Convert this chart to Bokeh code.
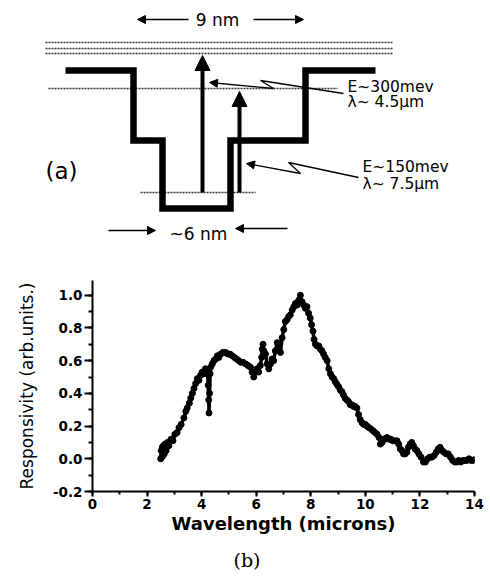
from bokeh.plotting import figure
from bokeh.layouts import column
from bokeh.models import (Range1d, Arrow, NormalHead, SingleIntervalTicker,
                          PrintfTickFormatter, Title)
from bokeh.core.properties import value
from bokeh.embed import file_html
from bokeh.resources import INLINE

# ---------------- data: panel (b) responsivity spectrum ----------------
wavelength = [2.50, 2.52, 2.54, 2.56, 2.58, 2.60, 2.63, 2.66, 2.70, 2.75, 2.80, 2.88, 2.95, 3.02,
              3.10, 3.17, 3.25, 3.35, 3.42, 3.47, 3.55, 3.60, 3.66, 3.72, 3.78, 3.84, 3.90, 3.96,
              4.02, 4.08, 4.14, 4.21, 4.24, 4.26, 4.27, 4.29, 4.31, 4.33, 4.39, 4.45, 4.52, 4.58,
              4.63, 4.70, 4.78, 4.88, 4.96, 5.04, 5.12, 5.20, 5.28, 5.36, 5.44, 5.52, 5.61, 5.70,
              5.79, 5.85, 5.91, 5.97, 6.03, 6.09, 6.15, 6.20, 6.22, 6.25, 6.28, 6.34, 6.40, 6.46,
              6.52, 6.58, 6.64, 6.70, 6.77, 6.83, 6.89, 6.95, 7.01, 7.07, 7.13, 7.19, 7.25, 7.32,
              7.38, 7.44, 7.50, 7.56, 7.62, 7.68, 7.74, 7.80, 7.86, 7.92, 7.98, 8.03, 8.08, 8.12,
              8.17, 8.23, 8.29, 8.35, 8.41, 8.47, 8.53, 8.60, 8.66, 8.72, 8.78, 8.84, 8.90, 8.96,
              9.02, 9.08, 9.14, 9.20, 9.26, 9.32, 9.38, 9.45, 9.51, 9.57, 9.63, 9.69, 9.75, 9.81,
              9.88, 9.94, 10.00, 10.06, 10.14, 10.22, 10.29, 10.36, 10.43, 10.50, 10.55, 10.61,
              10.67, 10.73, 10.79, 10.86, 10.93, 11.00, 11.08, 11.16, 11.22, 11.28, 11.34, 11.40,
              11.46, 11.52, 11.58, 11.64, 11.70, 11.76, 11.82, 11.89, 11.96, 12.04, 12.13, 12.20,
              12.28, 12.36, 12.44, 12.52, 12.60, 12.67, 12.74, 12.81, 12.88, 12.96, 13.04, 13.12,
              13.20, 13.28, 13.35, 13.42, 13.50, 13.58, 13.65, 13.72, 13.80, 13.88, 13.95, 14.00]
responsivity = [0.00, 0.05, 0.01, 0.07, 0.02, 0.08, 0.03, 0.09, 0.05, 0.10, 0.08, 0.12, 0.11, 0.15,
                0.16, 0.19, 0.21, 0.25, 0.29, 0.31, 0.34, 0.37, 0.40, 0.43, 0.46, 0.49, 0.48, 0.51,
                0.53, 0.52, 0.55, 0.54, 0.45, 0.36, 0.28, 0.40, 0.52, 0.56, 0.58, 0.60, 0.61, 0.63,
                0.62, 0.64, 0.65, 0.65, 0.64, 0.64, 0.63, 0.62, 0.61, 0.60, 0.59, 0.59, 0.58, 0.57,
                0.56, 0.53, 0.50, 0.53, 0.55, 0.53, 0.57, 0.62, 0.67, 0.70, 0.66, 0.64, 0.58, 0.55,
                0.58, 0.61, 0.60, 0.66, 0.71, 0.67, 0.65, 0.74, 0.79, 0.84, 0.85, 0.87, 0.88, 0.91,
                0.93, 0.95, 0.94, 0.97, 1.00, 0.96, 0.94, 0.92, 0.93, 0.89, 0.86, 0.82, 0.78, 0.73,
                0.70, 0.69, 0.69, 0.67, 0.66, 0.64, 0.62, 0.60, 0.55, 0.52, 0.50, 0.49, 0.47, 0.455,
                0.44, 0.42, 0.41, 0.39, 0.37, 0.36, 0.35, 0.33, 0.33, 0.32, 0.32, 0.31, 0.27, 0.24,
                0.22, 0.21, 0.21, 0.20, 0.19, 0.18, 0.17, 0.16, 0.15, 0.13, 0.09, 0.10,
                0.12, 0.12, 0.13, 0.12, 0.12, 0.11, 0.11, 0.11, 0.09, 0.06, 0.05, 0.03,
                0.03, 0.04, 0.07, 0.09, 0.10, 0.08, 0.06, 0.05, 0.03, 0.01, -0.02, -0.02,
                0.00, 0.01, 0.01, 0.02, 0.04, 0.06, 0.07, 0.05, 0.04, 0.03, 0.03, 0.01,
                -0.01, -0.02, -0.02, -0.01, -0.02, -0.01, -0.01, -0.01, 0.00, -0.01, -0.01, -0.005]

x_label = "Wavelength (microns)"
y_label = "Responsivity (arb.units.)"

# ---------------- schematic: panel (a) quantum well (diagram units) ----------------
well_x = [65, 133, 133, 162, 162, 230, 230, 305, 305, 375]
well_y = [70, 70, 140, 140, 208, 208, 140, 140, 70, 70]
continuum_y = [42, 48, 53]
continuum_x = [45, 393]
level2_y, level2_x = 88, [48, 337]
level1_y, level1_x = 192, [140, 255]
transitions = [(202, 192, 53), (239, 192, 89)]   # x, from, to
pointer_300 = [(343, 93), (260, 80), (273, 88), (209, 82)]
pointer_150 = [(358, 177), (288, 162), (300, 173), (246, 163)]
labels_a = [("E~300mev", 347, 86), ("λ~ 4.5μm", 347, 101),
            ("E~150mev", 362, 166), ("λ~ 7.5μm", 362, 183)]

SANS = "DejaVu Sans"

# ---------------- figure (a) ----------------
pa = figure(width=490, height=265, x_range=Range1d(0, 490), y_range=Range1d(265, 0),
            output_backend="svg", toolbar_location=None, min_border=0,
            x_axis_location=None, y_axis_location=None)
pa.frame_align = False
pa.grid.visible = False
pa.outline_line_color = None

for cy in continuum_y:
    pa.line(continuum_x, [cy, cy], line_color="#333333", line_width=1.6, line_dash="2 1")
pa.line(level2_x, [level2_y, level2_y], line_color="#333333", line_width=1.4, line_dash="2 1")
pa.line(level1_x, [level1_y, level1_y], line_color="#333333", line_width=1.4, line_dash="2 1")

pa.line(well_x, well_y, line_color="black", line_width=6.5, line_join="miter")

for tx, t0, t1 in transitions:
    pa.add_layout(Arrow(end=NormalHead(size=15, fill_color="black", line_color="black"),
                        x_start=tx, y_start=t0, x_end=tx, y_end=t1 + 2,
                        line_color="black", line_width=4))

for ptr in (pointer_300, pointer_150):
    xs = [p[0] for p in ptr]
    ys = [p[1] for p in ptr]
    pa.line(xs[:-1], ys[:-1], line_color="black", line_width=1.3)
    pa.add_layout(Arrow(end=NormalHead(size=8, fill_color="black", line_color="black"),
                        x_start=xs[-2], y_start=ys[-2], x_end=xs[-1], y_end=ys[-1],
                        line_color="black", line_width=1.3))

# width markers
pa.add_layout(Arrow(end=NormalHead(size=8, fill_color="black", line_color="black"),
                    x_start=188, y_start=19, x_end=137, y_end=19, line_width=1.5))
pa.add_layout(Arrow(end=NormalHead(size=8, fill_color="black", line_color="black"),
                    x_start=253, y_start=19, x_end=303, y_end=19, line_width=1.5))
pa.add_layout(Arrow(end=NormalHead(size=8, fill_color="black", line_color="black"),
                    x_start=108, y_start=230, x_end=155, y_end=230, line_width=1.5))
pa.add_layout(Arrow(end=NormalHead(size=8, fill_color="black", line_color="black"),
                    x_start=287, y_start=228, x_end=235, y_end=228, line_width=1.5))

pa.text(x=[217], y=[19], text=["9 nm"], text_font=value(SANS), text_font_size="17px",
        text_align="center", text_baseline="middle", text_color="black")
pa.text(x=[198], y=[233], text=["~6 nm"], text_font=value(SANS), text_font_size="17px",
        text_align="center", text_baseline="middle", text_color="black")
pa.text(x=[45], y=[170], text=["(a)"], text_font=value(SANS), text_font_size="23px",
        text_align="left", text_baseline="middle", text_color="black")
pa.text(x=[l[1] for l in labels_a], y=[l[2] for l in labels_a], text=[l[0] for l in labels_a],
        text_font=value(SANS), text_font_size="15.5px", text_align="left",
        text_baseline="middle", text_color="black")

# ---------------- figure (b) ----------------
pb = figure(frame_width=382, frame_height=211, x_range=Range1d(0, 14),
            y_range=Range1d(-0.2, 1.09),
            output_backend="svg", toolbar_location=None,
            min_border_left=92, min_border_right=16, min_border_top=15, min_border_bottom=4)
pb.frame_align = False
pb.grid.visible = False
pb.outline_line_color = None

pb.line(wavelength, responsivity, line_color="black", line_width=3.5)
pb.scatter(wavelength, responsivity, size=6, color="black")

pb.xaxis.ticker = SingleIntervalTicker(interval=2, num_minor_ticks=2)
pb.yaxis.ticker = SingleIntervalTicker(interval=0.2, num_minor_ticks=2)
pb.yaxis.formatter = PrintfTickFormatter(format="%.1f")

for ax in (pb.xaxis[0], pb.yaxis[0]):
    ax.axis_line_width = 2
    ax.axis_line_color = "black"
    ax.major_tick_line_width = 2
    ax.minor_tick_line_width = 2
    ax.major_tick_in = 0
    ax.minor_tick_in = 0
    ax.major_label_text_font = SANS
    ax.major_label_text_font_style = "bold"
    ax.major_label_text_font_size = "13.5px"
    ax.major_label_text_color = "black"
    ax.axis_label_text_color = "black"
    ax.axis_label_text_font = SANS

pb.xaxis.major_tick_out = 5
pb.xaxis.minor_tick_out = 3
pb.xaxis.major_label_standoff = 2
pb.xaxis.axis_label = x_label
pb.xaxis.axis_label_text_font_style = "bold"
pb.xaxis.axis_label_text_font_size = "18px"
pb.xaxis.axis_label_standoff = 1

pb.yaxis.major_tick_out = 8
pb.yaxis.minor_tick_out = 4
pb.yaxis.major_label_standoff = 2
pb.yaxis.axis_label = y_label
pb.yaxis.axis_label_text_font_style = "normal"
pb.yaxis.axis_label_text_font_size = "17px"
pb.yaxis.axis_label_standoff = 13

pb.add_layout(Title(text="(b)", align="left", offset=141, text_font="DejaVu Serif",
                    text_font_size="19px", text_font_style="normal", text_color="black",
                    standoff=20, vertical_align="bottom"), "below")

layout = column(pa, pb, spacing=0)
open("out.html", "w").write(file_html(layout, INLINE))
